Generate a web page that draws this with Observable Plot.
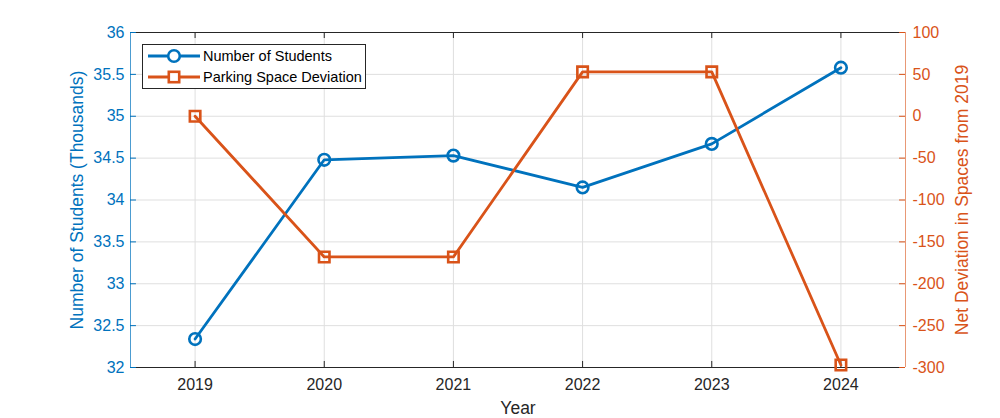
<!DOCTYPE html>
<html>
<head>
<meta charset="utf-8">
<script src="https://cdn.jsdelivr.net/npm/d3@7"></script>
<script src="https://cdn.jsdelivr.net/npm/@observablehq/plot@0.6"></script>
<style>
  html, body { margin: 0; padding: 0; background: #fff; }
  #wrap { position: relative; width: 1000px; height: 418px; font-family: "Liberation Sans", Arial, sans-serif; }
  #legend { position: absolute; left: 142px; top: 44px; width: 222px; height: 43px; border: 1px solid #262626; background: #fff; font-size: 14.5px; color: #000; }
  #legend .row { display: flex; align-items: center; height: 21px; }
  #legend svg { display: block; margin-left: 5px; margin-right: 3px; }
</style>
</head>
<body>
<div id="wrap"></div>
<script>
const years = [2019, 2020, 2021, 2022, 2023, 2024];
const students = [32.34, 34.48, 34.53, 34.15, 34.67, 35.58];
const parking = [0, -168, -168, 53, 53, -297];
const leftTicks = [32, 32.5, 33, 33.5, 34, 34.5, 35, 35.5, 36];
const rightTicks = [-300, -250, -200, -150, -100, -50, 0, 50, 100];
const seriesNames = ["Number of Students", "Parking Space Deviation"];

const blue = "#0072BD";
const orange = "#D95319";
const xDomain = [2018.5, 2024.5];
const yDomain = [32, 36];
// map right-axis values onto left scale (both span 8 intervals)
const toLeft = v => yDomain[0] + (v - rightTicks[0]) * (yDomain[1] - yDomain[0]) / (rightTicks[rightTicks.length - 1] - rightTicks[0]);
const fromLeft = y => Math.round(rightTicks[0] + (y - yDomain[0]) * (rightTicks[rightTicks.length - 1] - rightTicks[0]) / (yDomain[1] - yDomain[0]));

const sData = years.map((x, i) => ({x, y: students[i]}));
const pData = years.map((x, i) => ({x, y: toLeft(parking[i])}));

const tickLenX = 0.046, tickLenY = 0.072;

const chart = Plot.plot({
  width: 1000,
  height: 418,
  marginLeft: 130,
  marginRight: 95,
  marginTop: 32,
  marginBottom: 51,
  x: {domain: xDomain},
  y: {domain: yDomain},
  style: {fontFamily: "'Liberation Sans', Arial, sans-serif", fontSize: "16px", background: "#fff"},
  marks: [
    Plot.gridX(years, {stroke: "#dfdfdf", strokeOpacity: 1}),
    Plot.gridY(leftTicks, {stroke: "#dfdfdf", strokeOpacity: 1}),
    // box
    Plot.ruleY([yDomain[1]], {stroke: "#262626", strokeWidth: 1}),
    Plot.ruleY([yDomain[0]], {stroke: "#262626", strokeWidth: 1}),
    Plot.ruleX([xDomain[0]], {stroke: blue, strokeOpacity: 0.7}),
    Plot.ruleX([xDomain[1]], {stroke: orange, strokeOpacity: 0.6}),
    // inward ticks
    Plot.ruleX(years, {y1: yDomain[0], y2: yDomain[0] + tickLenY, stroke: "#262626"}),
    Plot.ruleX(years, {y1: yDomain[1], y2: yDomain[1] - tickLenY, stroke: "#262626"}),
    Plot.ruleY(leftTicks, {x1: xDomain[0], x2: xDomain[0] + tickLenX, stroke: blue}),
    Plot.ruleY(leftTicks, {x1: xDomain[1], x2: xDomain[1] - tickLenX, stroke: orange}),
    // axes
    Plot.axisX(years, {anchor: "bottom", tickSize: 0, tickPadding: 11, tickFormat: d => String(d), fill: "#262626", label: null}),
    Plot.axisY(leftTicks, {anchor: "left", tickSize: 0, tickPadding: 6, tickFormat: d => String(d), fill: blue, label: null}),
    Plot.axisY(rightTicks.map(toLeft), {anchor: "right", tickSize: 0, tickPadding: 7, tickFormat: d => String(fromLeft(d)), fill: orange, label: null}),
    // axis titles
    Plot.text(["Year"], {frameAnchor: "bottom", dy: 41, textAnchor: "middle", lineAnchor: "middle", fill: "#262626", fontSize: 17.5}),
    Plot.text(["Number of Students (Thousands)"], {frameAnchor: "left", dx: -53, rotate: -90, textAnchor: "middle", lineAnchor: "middle", fill: blue, fontSize: 17.5}),
    Plot.text(["Net Deviation in Spaces from 2019"], {frameAnchor: "right", dx: 57, rotate: -90, textAnchor: "middle", lineAnchor: "middle", fill: orange, fontSize: 17.5}),
    // series
    Plot.line(sData, {x: "x", y: "y", stroke: blue, strokeWidth: 2.8}),
    Plot.dot(sData, {x: "x", y: "y", r: 5.8, stroke: blue, strokeWidth: 2.6, fill: "none"}),
    Plot.line(pData, {x: "x", y: "y", stroke: orange, strokeWidth: 2.8}),
    Plot.dot(pData, {x: "x", y: "y", symbol: "square", r: 5.9, stroke: orange, strokeWidth: 2.6, fill: "none"})
  ]
});

const wrap = document.getElementById("wrap");
wrap.appendChild(chart);

const legend = document.createElement("div");
legend.id = "legend";
const swatch = (color, kind) => {
  const mk = kind === "circle"
    ? `<circle cx="26" cy="9" r="5.8" fill="#fff" stroke="${color}" stroke-width="2.6"/>`
    : `<rect x="20.8" y="3.8" width="10.4" height="10.4" fill="#fff" stroke="${color}" stroke-width="2.6"/>`;
  return `<svg width="52" height="18"><line x1="0" y1="9" x2="52" y2="9" stroke="${color}" stroke-width="2.8"/>${mk}</svg>`;
};
legend.innerHTML =
  `<div class="row">${swatch(blue, "circle")}<span>${seriesNames[0]}</span></div>` +
  `<div class="row">${swatch(orange, "square")}<span>${seriesNames[1]}</span></div>`;
wrap.appendChild(legend);
</script>
</body>
</html>
